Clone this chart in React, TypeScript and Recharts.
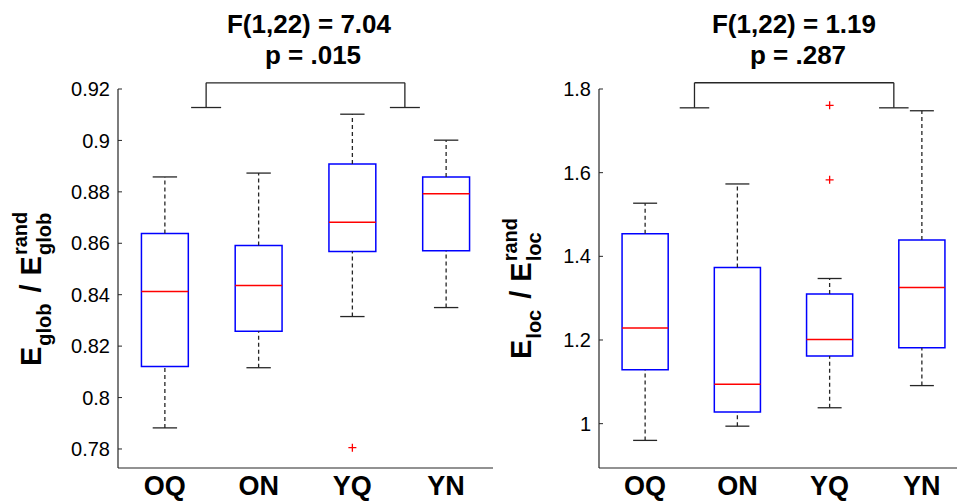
import { ReferenceArea, ReferenceLine, Scatter, ScatterChart, XAxis, YAxis } from "recharts";

const groups = ["OQ", "ON", "YQ", "YN"];

// left panel: global efficiency ratio
const globLowerWhisker = [0.7882, 0.8116, 0.8315, 0.835];
const globQ1 = [0.8121, 0.8258, 0.8568, 0.8571];
const globMedian = [0.8412, 0.8436, 0.8682, 0.8793];
const globQ3 = [0.8638, 0.8591, 0.8908, 0.8858];
const globUpperWhisker = [0.8858, 0.8873, 0.9102, 0.9001];
const globOutliers = [{ group: 3, value: 0.7805 }];
const globTicks = [0.78, 0.8, 0.82, 0.84, 0.86, 0.88, 0.9, 0.92];
const globDomain = [0.7726, 0.92];
const globStats = ["F(1,22) = 7.04", "p = .015"];
const globBracket = { left: 1.44, right: 3.56, top: 0.9224, foot: 0.9128 };

// right panel: local efficiency ratio
const locLowerWhisker = [0.96, 0.994, 1.038, 1.091];
const locQ1 = [1.129, 1.028, 1.162, 1.1815];
const locMedian = [1.2285, 1.094, 1.201, 1.3255];
const locQ3 = [1.454, 1.373, 1.31, 1.439];
const locUpperWhisker = [1.527, 1.573, 1.347, 1.748];
const locOutliers = [
  { group: 3, value: 1.761 },
  { group: 3, value: 1.583 },
];
const locTicks = [1, 1.2, 1.4, 1.6, 1.8];
const locDomain = [0.894, 1.8];
const locStats = ["F(1,22) = 1.19", "p = .287"];
const locBracket = { left: 1.535, right: 3.696, top: 1.815, foot: 1.755 };

const FONT = "'Liberation Sans', Arial, Helvetica, sans-serif";
const AXIS = "#262626";
const BOX = "#0000ff";
const MED = "#ff0000";

// rough Arial Bold advance widths, for laying out the stacked sub/superscript
const ADV: Record<string, number> = {
  E: 0.667, g: 0.611, l: 0.278, o: 0.611, b: 0.611, c: 0.556, " ": 0.278, "/": 0.278,
};
const textWidth = (s: string, size: number) =>
  s.split("").reduce((acc, ch) => acc + (ADV[ch] ?? 0.6) * size, 0);

interface PanelProps {
  left: number;
  width: number;
  yAxisWidth: number;
  rightMargin: number;
  domain: number[];
  ticks: number[];
  lower: number[];
  q1: number[];
  median: number[];
  q3: number[];
  upper: number[];
  outliers: { group: number; value: number }[];
  bracket: { left: number; right: number; top: number; foot: number };
}

const BOX_HALF = 0.25;
const CAP_HALF = 0.13;
const FOOT_HALF = 0.16;

function Cross(props: { cx?: number; cy?: number }) {
  const { cx = 0, cy = 0 } = props;
  return (
    <path
      d={`M${cx - 4},${cy}h8M${cx},${cy - 4}v8`}
      stroke={MED}
      strokeWidth={1.3}
      fill="none"
    />
  );
}

function BoxPanel(p: PanelProps) {
  const outlierPoints = p.outliers.map((o) => ({ x: o.group, y: o.value }));
  const b = p.bracket;
  const seg = (key: string, x1: number, y1: number, x2: number, y2: number, dashed = false) => (
    <ReferenceLine
      key={key}
      segment={[{ x: x1, y: y1 }, { x: x2, y: y2 }]}
      stroke={AXIS}
      strokeWidth={1.3}
      strokeDasharray={dashed ? "4 3" : undefined}
      ifOverflow="visible"
    />
  );
  return (
    <div style={{ position: "absolute", left: p.left, top: 0 }}>
      <ScatterChart
        width={p.width}
        height={501}
        margin={{ top: 89, right: p.rightMargin, bottom: 0, left: 0 }}
      >
        <XAxis
          type="number"
          dataKey="x"
          domain={[0.5, 4.5]}
          ticks={[1, 2, 3, 4]}
          interval={0}
          allowDataOverflow
          height={33}
          tickLine={false}
          tickSize={0}
          tickMargin={8}
          tickFormatter={(v: number) => groups[v - 1]}
          axisLine={{ stroke: AXIS, strokeWidth: 1.2 }}
          tick={{ fill: "#000", fontSize: 27, fontWeight: "bold", fontFamily: FONT }}
        />
        <YAxis
          type="number"
          dataKey="y"
          domain={p.domain}
          ticks={p.ticks}
          interval={0}
          allowDataOverflow
          width={p.yAxisWidth}
          tickSize={-4}
          tickMargin={12}
          tickFormatter={(v: number) => String(Number(v.toFixed(2)))}
          axisLine={{ stroke: AXIS, strokeWidth: 1.2 }}
          tickLine={{ stroke: AXIS }}
          tick={{ fill: "#000", fontSize: 20, fontFamily: FONT }}
        />
        {groups.map((_, i) => {
          const x = i + 1;
          return [
            seg(`wu${i}`, x, p.q3[i], x, p.upper[i], true),
            seg(`wl${i}`, x, p.lower[i], x, p.q1[i], true),
            seg(`cu${i}`, x - CAP_HALF, p.upper[i], x + CAP_HALF, p.upper[i]),
            seg(`cl${i}`, x - CAP_HALF, p.lower[i], x + CAP_HALF, p.lower[i]),
            <ReferenceArea
              key={`box${i}`}
              x1={x - BOX_HALF}
              x2={x + BOX_HALF}
              y1={p.q1[i]}
              y2={p.q3[i]}
              fill="none"
              fillOpacity={0}
              stroke={BOX}
              strokeWidth={1.5}
              strokeOpacity={1}
              ifOverflow="visible"
            />,
            <ReferenceLine
              key={`med${i}`}
              segment={[{ x: x - BOX_HALF, y: p.median[i] }, { x: x + BOX_HALF, y: p.median[i] }]}
              stroke={MED}
              strokeWidth={1.5}
              ifOverflow="visible"
            />,
          ];
        })}
        {/* significance bracket */}
        {seg("bt", b.left, b.top, b.right, b.top)}
        {seg("bl", b.left, b.top, b.left, b.foot)}
        {seg("br", b.right, b.top, b.right, b.foot)}
        {seg("fl", b.left - FOOT_HALF, b.foot, b.left + FOOT_HALF, b.foot)}
        {seg("fr", b.right - FOOT_HALF, b.foot, b.right + FOOT_HALF, b.foot)}
        <Scatter data={outlierPoints} shape={<Cross />} isAnimationActive={false} />
      </ScatterChart>
    </div>
  );
}

// E_sub / E_sub^rand, rotated to read bottom-to-top
function RatioLabel({ x, y, sub }: { x: number; y: number; sub: string }) {
  const big = 29;
  const small = 20;
  const e1 = textWidth("E", big);
  const subStart = e1 + 1;
  const slashStart = subStart + textWidth(sub, small) + 11;
  const e2Start = slashStart + textWidth("/", big) + 9;
  const tailStart = e2Start + e1 + 1;
  return (
    <g
      transform={`translate(${x},${y}) rotate(-90)`}
      fontFamily={FONT}
      fontWeight="bold"
      fill="#000"
    >
      <text x={0} y={0} fontSize={big}>E</text>
      <text x={subStart} y={10} fontSize={small}>{sub}</text>
      <text x={slashStart} y={0} fontSize={big}>/</text>
      <text x={e2Start} y={0} fontSize={big}>E</text>
      <text x={tailStart} y={10} fontSize={small}>{sub}</text>
      <text x={tailStart} y={-14} fontSize={small}>rand</text>
    </g>
  );
}

function Stats({ cx, lines }: { cx: number; lines: string[] }) {
  return (
    <g fontFamily={FONT} fontWeight="bold" fontSize={26} fill="#000" textAnchor="middle">
      <text x={cx} y={33}>{lines[0]}</text>
      <text x={cx + 4} y={64}>{lines[1]}</text>
    </g>
  );
}

export default function App() {
  return (
    <div
      style={{
        position: "fixed",
        left: 0,
        top: 0,
        width: 957,
        height: 501,
        overflow: "hidden",
        background: "#fff",
      }}
    >
      <BoxPanel
        left={0}
        width={500}
        yAxisWidth={118}
        rightMargin={7}
        domain={globDomain}
        ticks={globTicks}
        lower={globLowerWhisker}
        q1={globQ1}
        median={globMedian}
        q3={globQ3}
        upper={globUpperWhisker}
        outliers={globOutliers}
        bracket={globBracket}
      />
      <BoxPanel
        left={500}
        width={470}
        yAxisWidth={99}
        rightMargin={2}
        domain={locDomain}
        ticks={locTicks}
        lower={locLowerWhisker}
        q1={locQ1}
        median={locMedian}
        q3={locQ3}
        upper={locUpperWhisker}
        outliers={locOutliers}
        bracket={locBracket}
      />
      <svg
        width={957}
        height={501}
        style={{ position: "absolute", left: 0, top: 0, pointerEvents: "none" }}
      >
        <Stats cx={309} lines={globStats} />
        <Stats cx={794} lines={locStats} />
        <RatioLabel x={41} y={366} sub="glob" />
        <RatioLabel x={531} y={359} sub="loc" />
      </svg>
    </div>
  );
}
